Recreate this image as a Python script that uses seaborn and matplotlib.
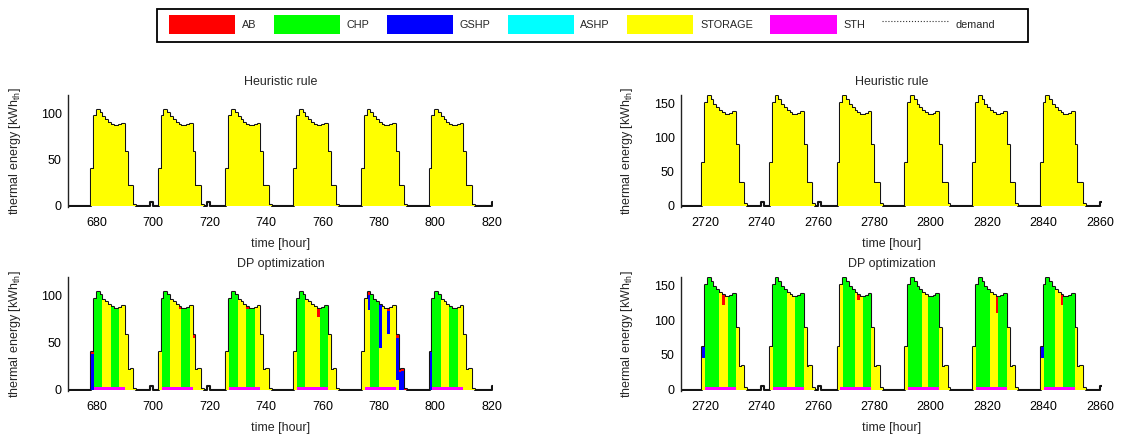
import numpy as np
import pandas as pd
import matplotlib
matplotlib.use("Agg")
import matplotlib.pyplot as plt
from matplotlib.patches import Patch, Rectangle
from matplotlib.lines import Line2D
from matplotlib.ticker import FixedLocator
import seaborn as sns

# ---------------- data ----------------
components = ["AB", "CHP", "GSHP", "ASHP", "STORAGE", "STH"]
comp_colors = ["#ff0000", "#00ff00", "#0000ff", "#00ffff", "#ffff00", "#ff00ff"]

# left case (hours ~670-820)
left_days = [678, 702, 726, 750, 774, 798]
left_profile = [40, 97, 104, 101, 96, 93, 90, 88, 86, 86, 87, 89, 58, 21, 22, 1]
left_spikes = [699, 719, 820]
left_spike_value = 4
left_sth_value = 3
left_sth_offsets = [1, 2, 3, 4, 5, 6, 7, 8, 9, 10, 11]
left_chp_offsets = [[1, 2, 3, 7, 8, 9], [1, 2, 3, 8, 9, 10], [1, 2, 3, 7, 8, 9],
                    [1, 2, 3, 9, 10, 11], [3, 4, 5], [1, 2, 3, 7, 8, 9]]
left_gshp = {678: 38, 776: 16, 780: 45, 783: 25, 786: 44, 787: 19, 788: 20, 798: 40}
left_ab = {678: 2, 709: 2, 714: 3, 733: 2, 758: 9, 776: 3, 783: 2, 786: 3,
           787: 2, 788: 2, 789: 1}
left_xticks = [680, 700, 720, 740, 760, 780, 800, 820]
left_yticks = [0, 50, 100]

# right case (hours ~2712-2860)
right_days = [2719, 2743, 2767, 2791, 2815, 2839]
right_profile = [62, 150, 161, 155, 148, 143, 139, 136, 133, 133, 134, 137, 89, 33, 34, 2]
right_spikes = [2740, 2760, 2860]
right_spike_value = 6
right_sth_value = 4
right_sth_offsets = [1, 2, 3, 4, 5, 6, 7, 8, 9, 10, 11]
right_chp_offsets = [[1, 2, 3, 4, 5, 9, 10, 11], [1, 2, 3, 4, 5, 9, 10, 11],
                     [2, 3, 4, 5, 9, 10, 11], [1, 2, 3, 4, 5, 8, 9, 10, 11],
                     [1, 2, 3, 4, 5, 9, 10, 11], [1, 2, 3, 4, 8, 9, 10, 11]]
right_gshp = {2719: 16, 2839: 16}
right_ab = {2726: 14, 2774: 7, 2823: 22, 2846: 14}
right_xticks = [2720, 2740, 2760, 2780, 2800, 2820, 2840, 2860]
right_yticks = [0, 50, 100, 150]

titles = ["Heuristic rule", "DP optimization"]
xlabel = "time [hour]"
ylabel = r"thermal energy [kWh$_{\rm th}$]"

# ---------------- style ----------------
sns.set_theme(style="white")
plt.rcParams["font.family"] = ["Liberation Sans", "DejaVu Sans"]
plt.rcParams["mathtext.fontset"] = "custom"
plt.rcParams["mathtext.rm"] = "Liberation Sans"
plt.rcParams["mathtext.it"] = "Liberation Sans:italic"
FS = 9

W, H = 1126, 438
fig = plt.figure(figsize=(W / 100, H / 100), dpi=100)


def rect(l, t, r, b):
    return [l / W, 1 - b / H, (r - l) / W, (b - t) / H]


def demand_series(days, profile, spikes, spike_val, x0, x1):
    hours = np.arange(x0, x1 + 1)
    dem = pd.Series(0.0, index=hours)
    for d in days:
        for k, v in enumerate(profile):
            dem[d + k] = v
    for s in spikes:
        dem[s] = spike_val
    return dem


def heuristic_table(days, profile):
    rows = []
    for d in days:
        for k, v in enumerate(profile):
            rows.append((d + k, "STORAGE", v))
    return pd.DataFrame(rows, columns=["hour", "component", "value"])


def dp_table(days, profile, sth_val, sth_off, chp_off, gshp, ab):
    rows = []
    for i, d in enumerate(days):
        for k, v in enumerate(profile):
            h = d + k
            sth = sth_val if k in sth_off else 0
            g = gshp.get(h, 0)
            a = ab.get(h, 0)
            rest = v - sth - g - a
            filler = "CHP" if k in chp_off[i] else "STORAGE"
            rows += [(h, "STH", sth), (h, "GSHP", g), (h, "AB", a), (h, filler, rest)]
    return pd.DataFrame(rows, columns=["hour", "component", "value"])


# bottom -> top stacking: STH, STORAGE, CHP, ASHP, GSHP, AB (seaborn stacks last level at bottom)
stack_order = ["AB", "GSHP", "ASHP", "CHP", "STORAGE", "STH"]
pal = dict(zip(components, comp_colors))


def draw(ax, table, dem, xlim, ylim, xticks, yticks, title):
    b0 = int(np.floor(xlim[0]))
    b1 = int(np.ceil(xlim[1])) + 1
    table = table.copy()
    table["hour"] = table["hour"].astype(float) + 0.5
    sns.histplot(data=table, x="hour", weights="value", hue="component",
                 hue_order=stack_order, palette=pal, multiple="stack",
                 binwidth=1, binrange=(b0, b1), element="step", fill=True,
                 alpha=1, linewidth=0, legend=False, ax=ax, zorder=2)
    xs = np.append(dem.index.values, dem.index.values[-1] + 1)
    ys = np.append(dem.values, dem.values[-1])
    sns.lineplot(x=xs, y=ys, drawstyle="steps-post", color="#141414", lw=1.5,
                 estimator=None, sort=False, ax=ax, zorder=1.5)
    ax.set_xlim(*xlim)
    ax.set_ylim(*ylim)
    ax.set_xticks(xticks)
    ax.set_yticks(yticks)
    ax.yaxis.set_minor_locator(FixedLocator([ylim[1] - 0.3]))
    for s in ["top", "right", "bottom"]:
        ax.spines[s].set_visible(False)
    ax.spines["left"].set_color("#222222")
    ax.spines["left"].set_linewidth(1.0)
    ax.tick_params(axis="x", length=0, pad=7.5, labelsize=FS, colors="black")
    ax.tick_params(axis="y", which="both", direction="in", length=3, width=0.8,
                   pad=4.5, labelsize=FS, colors="black")
    ax.set_title(title, fontsize=FS, pad=7)
    ax.set_xlabel(xlabel, fontsize=FS, labelpad=6)
    ax.set_ylabel(ylabel, fontsize=FS)
    ax.grid(False)


panels = [
    (rect(68, 95, 493, 207), "left", 0),
    (rect(68, 277, 493, 391), "left", 1),
    (rect(681, 95, 1102, 207), "right", 0),
    (rect(681, 277, 1102, 391), "right", 1),
]

left_xlim = (669.8, 820.5)
right_xlim = (2711.5, 2860.7)
left_ylim = (-1.2, 120)
right_ylim = (-1.7, 162)

left_dem = demand_series(left_days, left_profile, left_spikes, left_spike_value, 669, 820)
right_dem = demand_series(right_days, right_profile, right_spikes, right_spike_value, 2711, 2860)

for r, side, row in panels:
    ax = fig.add_axes(r)
    if side == "left":
        if row == 0:
            tab = heuristic_table(left_days, left_profile)
        else:
            tab = dp_table(left_days, left_profile, left_sth_value, left_sth_offsets,
                           left_chp_offsets, left_gshp, left_ab)
        draw(ax, tab, left_dem, left_xlim, left_ylim, left_xticks, left_yticks, titles[row])
        ax.yaxis.set_label_coords((23 - 68) / 425, 0.5)
    else:
        if row == 0:
            tab = heuristic_table(right_days, right_profile)
        else:
            tab = dp_table(right_days, right_profile, right_sth_value, right_sth_offsets,
                           right_chp_offsets, right_gshp, right_ab)
        draw(ax, tab, right_dem, right_xlim, right_ylim, right_xticks, right_yticks, titles[row])
        ax.yaxis.set_label_coords((635 - 681) / 421, 0.5)

# legend (frameless, with a separate box drawn around it)
handles = [Patch(facecolor=c, edgecolor="none") for c in comp_colors]
handles.append(Line2D([], [], color="#333333", ls=":", lw=0.8))
labels = components + ["demand"]
leg = fig.legend(handles, labels, loc="center left", bbox_to_anchor=(169 / W, 1 - 24.5 / H),
                 ncol=7, fontsize=7.8, frameon=False,
                 handlelength=6.1, handleheight=2.3, handletextpad=0.62, columnspacing=1.6,
                 borderpad=0, borderaxespad=0)
fig.patches.append(Rectangle((157 / W, 1 - 42 / H), 871 / W, 33 / H,
                             transform=fig.transFigure, fill=False,
                             edgecolor="black", linewidth=1.3))

fig.savefig("out.png", dpi=100)
